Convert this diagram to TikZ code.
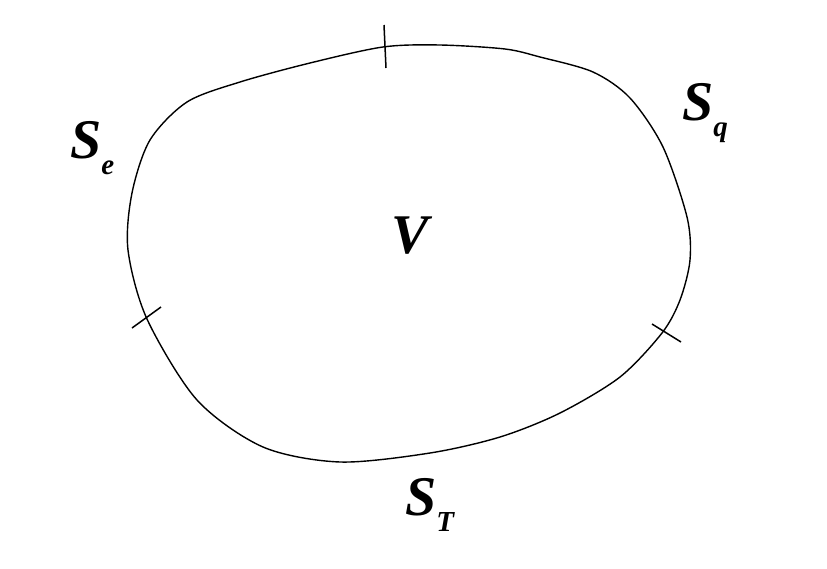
\documentclass[tikz,border=0pt]{standalone}
\usepackage{fontspec}
\setmainfont{Liberation Serif}
\usepackage{tikz}
\usetikzlibrary{calc}
\tikzset{
	lbl/.style={font=\fontsize{56}{56}\selectfont\bfseries\itshape, inner sep=0pt, anchor=base west},
	tick/.style={line width=1.5pt},
}
\newcommand{\sublbl}[1]{\raisebox{-16pt}{\fontsize{29}{29}\selectfont #1}}

\begin{document}
\begin{tikzpicture}[x=1pt, y=-1pt]
	\useasboundingbox (0,0) rectangle (827,568);

	\draw[line width=1.4pt]	plot[smooth cycle, tension=0.5] coordinates {(383,47) (440,45) (505,49) (540,57) (593,72) (630,98) (663,147) (687,217) (690,260) (680,300) (662,333) (620,377) (560,413) (500,437) (430,453) (340,462) (263,447) (197,400) (147,319) (128,250) (132,193) (150,140) (187,102) (240,82) (310,63)};

	\draw[tick]		(384,25) -- (386,68);
	\draw[tick]		(132,328) -- (161,307);
	\draw[tick]		(652,324) -- (681,342);

	\node[lbl] (Se) at (70,158) {S\sublbl{e}};
	\node[lbl] (Sq) at (682,120) {S\sublbl{q}};
	\node[lbl] (ST) at (405,515) {S\sublbl{T}};
	\node[lbl] (V) at (391,253) {V};
\end{tikzpicture}
\end{document}
